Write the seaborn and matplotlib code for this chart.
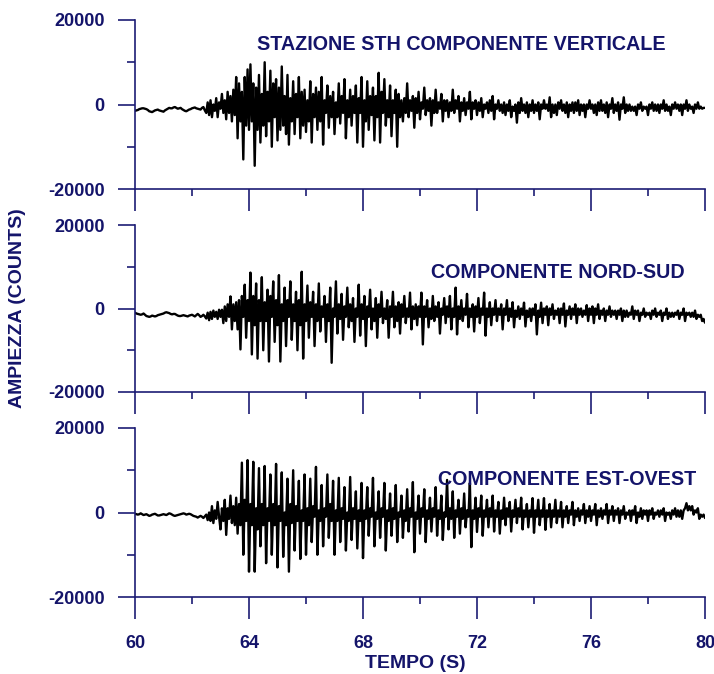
import numpy as np
import pandas as pd
import matplotlib
matplotlib.use("Agg")
import matplotlib.pyplot as plt
import seaborn as sns
from matplotlib.ticker import MultipleLocator, FixedLocator

# ---------------- data (amplitudes in thousands of counts, one sample every 0.05 s) -------------
time_start = 60.0
time_end = 80.0

vertical_k = [
    -1.5, -1.4, -1.3, -1.1, -1.0, -0.9, -0.9, -1.0, -1.1, -1.3,
    -1.6, -1.7, -1.8, -1.6, -1.4, -1.3, -1.2, -1.4, -1.5, -1.6,
    -1.7, -1.4, -1.2, -1.0, -0.8, -0.9, -0.9, -0.7, -0.6, -0.8,
    -1.0, -0.9, -0.8, -1.1, -1.3, -1.5, -1.6, -1.4, -1.2, -1.1,
    -0.9, -0.8, -0.7, -0.9, -1.0, -1.1, -1.2, -0.8, -0.6, -1.4,
    -2.0, 0.5, -2.5, 1.0, -3.0, 0.0, -1.5, 1.5, -3.0, 0.5,
    -1.0, 2.5, -2.0, 1.0, -3.5, 3.0, -2.0, 2.0, -4.0, 3.5,
    -2.5, 6.5, -8.0, 5.0, -4.0, 3.0, -13.0, 6.5, -5.0, 8.3,
    -6.0, 9.5, -4.0, 5.0, -14.5, 4.0, -6.0, 7.0, -9.0, 2.5,
    -5.0, 10.0, -7.5, 3.0, -4.0, 8.0, -10.0, 5.0, -3.0, 6.0,
    -8.5, 4.0, -6.0, 9.0, -5.0, 2.0, -7.0, 7.0, -9.5, 1.5,
    -4.0, 5.5, -7.0, 2.5, -3.0, 6.5, -8.0, 3.0, -5.0, 3.5,
    -6.5, 1.0, -4.0, 5.5, -9.0, 2.5, -3.0, 4.0, -6.0, 3.0,
    -4.0, 6.5, -9.5, 1.0, -2.0, 4.5, -5.5, 2.0, -3.0, 3.0,
    -7.0, 0.5, -3.0, 5.0, -4.5, 2.0, -2.0, 6.0, -8.0, 1.0,
    -3.0, 3.5, -5.0, 2.0, -2.0, 4.5, -9.0, 1.5, -2.0, 6.5,
    -10.0, 1.0, -4.0, 5.5, -6.0, 2.0, -2.5, 4.0, -8.5, 2.0,
    -3.0, 7.5, -9.0, 3.0, -2.0, 6.0, -5.0, 1.0, -3.0, 4.5,
    -7.5, 1.0, -2.0, 3.5, -10.0, 2.5, -3.0, 1.0, -4.0, 1.5,
    -2.0, 5.0, -3.0, 1.0, -1.5, 2.0, -5.5, 1.5, -2.0, 3.0,
    -3.5, 0.5, -1.0, 4.0, -2.5, 1.0, -1.5, 1.5, -5.0, 1.0,
    -2.0, 3.5, -2.0, 0.5, -1.0, 2.5, -4.0, 1.0, -1.5, 1.0,
    -3.0, 0.5, -1.5, 3.5, -2.0, 1.0, -1.0, 2.0, -4.0, 0.5,
    -1.5, 1.5, -2.5, 0.5, -1.0, 3.0, -3.5, 0.5, -1.0, 1.0,
    -2.5, 0.5, -1.5, 1.5, -3.0, 0.0, -1.0, 0.5, -2.0, 1.0,
    -1.5, 2.0, -3.5, 0.0, -1.0, 1.0, -1.5, 0.0, -2.0, 0.5,
    -2.5, 0.0, -1.5, 1.0, -3.0, -0.5, -1.5, 0.0, -4.3, 0.5,
    -2.0, 1.5, -1.5, 0.0, -2.0, 0.5, -3.0, 0.0, -1.5, 1.0,
    -2.0, 0.0, -1.5, 0.5, -3.5, 0.0, -1.0, 1.0, -1.0, 0.0,
    -1.5, 1.7, -3.0, 0.0, -2.0, 0.0, -2.5, 0.5, -1.0, 1.0,
    -1.5, 0.0, -2.0, 0.5, -3.0, 0.0, -1.5, 0.5, -2.0, 0.5,
    -1.5, 1.0, -2.5, 0.0, -1.5, 0.0, -3.0, 0.0, -1.0, 1.0,
    -1.0, 0.0, -2.0, 0.0, -2.5, 0.5, -1.5, 1.0, -1.5, 0.0,
    -2.0, 0.5, -3.0, 0.0, -1.0, 1.5, -2.0, 0.0, -1.5, 0.5,
    -3.6, 0.0, -1.0, 1.7, -2.0, 0.0, -1.5, 0.0, -1.5, -0.5,
    -1.5, -0.5, -2.5, 0.0, -1.0, 0.5, -1.5, -0.5, -1.0, -0.5,
    -2.5, 0.0, -1.0, 0.5, -1.5, 0.0, -1.5, 0.0, -2.0, 0.0,
    -1.0, 1.0, -1.5, 0.0, -1.5, -0.5, -2.5, 0.0, -1.0, 0.5,
    -1.0, 0.0, -1.5, 0.0, -2.5, 0.0, -1.0, 1.0, -1.5, 0.0,
    -1.0, -0.5, -2.0, 0.0, -1.0, 0.5, -1.0, -0.5, -1.0, -0.8,
    -0.8,
]

nord_sud_k = [
    -1.0, -1.2, -1.3, -1.4, -1.5, -1.4, -1.2, -1.5, -1.8, -1.9,
    -2.0, -1.9, -1.7, -1.8, -1.9, -1.8, -1.6, -1.5, -1.4, -1.3,
    -1.2, -1.0, -0.9, -1.0, -1.1, -1.3, -1.4, -1.3, -1.3, -1.5,
    -1.7, -1.8, -1.8, -1.7, -1.6, -1.7, -1.8, -1.9, -1.7, -1.6,
    -1.5, -1.7, -1.9, -1.6, -1.3, -1.6, -2.0, -1.8, -1.5, -1.9,
    -2.4, -1.0, -2.8, -0.8, -2.5, -0.5, -2.0, -0.8, -2.5, -0.3,
    -2.0, -0.3, -3.5, 0.5, -3.0, 1.0, -2.0, 2.9, -5.0, 1.0,
    -3.0, 1.5, -5.0, 2.0, -9.8, 3.0, -2.0, 5.7, -7.0, 2.0,
    -3.0, 8.6, -11.0, 3.0, -4.0, 6.0, -12.0, 2.0, -3.0, 7.5,
    -10.0, 1.5, -3.0, 4.5, -12.7, 3.0, -2.0, 6.5, -8.0, 2.0,
    -4.0, 8.0, -12.7, 1.0, -3.0, 5.0, -9.0, 2.0, -2.0, 6.5,
    -7.5, 1.0, -3.0, 4.0, -10.0, 2.0, -4.0, 8.8, -12.0, 1.0,
    -3.0, 5.5, -7.0, 1.5, -2.0, 4.0, -9.0, 1.0, -3.0, 6.0,
    -5.5, 0.5, -2.0, 3.0, -8.0, 1.0, -3.0, 5.0, -13.0, 0.0,
    -2.0, 6.5, -6.0, 1.0, -2.5, 3.5, -7.5, 0.5, -2.0, 5.0,
    -4.5, 1.0, -3.0, 2.5, -8.0, 0.0, -2.0, 5.7, -6.5, 1.0,
    -2.5, 3.0, -9.0, 0.5, -2.0, 4.5, -5.0, 0.0, -3.0, 2.5,
    -7.0, 1.0, -2.0, 4.0, -3.5, 0.0, -2.5, 2.0, -7.0, 0.5,
    -2.0, 4.0, -4.5, 0.5, -3.0, 1.5, -6.0, 1.0, -2.0, 3.0,
    -3.5, 0.0, -2.0, 3.8, -5.0, 0.5, -2.5, 1.0, -4.0, 0.5,
    -2.0, 3.8, -8.6, 0.5, -2.0, 2.0, -4.5, 0.0, -2.5, 3.0,
    -3.0, 0.5, -2.0, 1.5, -6.0, 0.0, -1.5, 2.5, -3.5, 0.5,
    -2.0, 3.0, -5.0, 0.0, -2.0, 5.0, -6.2, 0.5, -2.5, 2.0,
    -3.0, 0.0, -1.5, 3.5, -4.5, 0.0, -2.0, 1.0, -5.5, 0.5,
    -2.0, 2.5, -3.5, 0.0, -1.5, 3.8, -6.5, 0.0, -2.0, 1.5,
    -4.0, 0.0, -1.5, 2.0, -3.0, 0.0, -1.5, 1.0, -5.0, 0.0,
    -1.5, 2.0, -3.0, 0.0, -2.0, 1.5, -4.5, -0.5, -2.0, 0.5,
    -2.5, 0.0, -1.5, 1.4, -4.3, -0.5, -2.0, 0.0, -3.0, 0.0,
    -1.5, 1.0, -6.2, -0.5, -2.0, 1.4, -3.5, 0.0, -1.5, 0.5,
    -4.0, 0.0, -1.5, 1.0, -2.5, -0.5, -1.5, 0.0, -3.5, 0.0,
    -1.5, 1.2, -4.3, -0.5, -1.5, 0.5, -2.5, 0.0, -1.5, 1.0,
    -3.5, 0.0, -1.5, 0.0, -2.0, -0.5, -1.5, 0.8, -3.0, 0.0,
    -1.5, 0.5, -3.5, 0.0, -1.5, 1.0, -2.5, -0.5, -1.5, 0.0,
    -3.0, -0.5, -1.5, 0.5, -2.0, -0.5, -1.5, -0.5, -2.5, -0.5,
    -1.5, 0.0, -3.0, -0.5, -2.0, -0.5, -2.0, -1.0, -1.5, 0.5,
    -2.5, -0.5, -1.5, -0.5, -3.0, -1.0, -1.5, 0.0, -2.0, -1.0,
    -1.5, -1.0, -2.5, -0.5, -1.5, 0.0, -2.0, -1.0, -1.5, -0.5,
    -3.0, -1.0, -1.5, 0.0, -2.5, -1.0, -2.0, -1.0, -2.0, -1.0,
    -1.5, -0.5, -2.5, -1.0, -1.5, 0.0, -3.0, -1.0, -1.5, -1.0,
    -2.0, -1.0, -2.0, -0.5, -2.5, -1.5, -2.0, -1.5, -3.0, -2.5,
    -3.4,
]

est_ovest_k = [
    -0.3, -0.4, -0.5, -0.4, -0.2, -0.4, -0.6, -0.5, -0.4, -0.6,
    -0.8, -0.7, -0.5, -0.4, -0.3, -0.5, -0.7, -0.7, -0.6, -0.5,
    -0.4, -0.5, -0.6, -0.4, -0.2, -0.3, -0.5, -0.7, -0.8, -0.7,
    -0.6, -0.5, -0.4, -0.3, -0.2, -0.3, -0.5, -0.4, -0.3, -0.4,
    -0.6, -0.8, -0.9, -1.0, -1.2, -1.0, -0.8, -1.0, -1.3, -0.9,
    -0.5, -1.8, 0.0, -2.0, 1.5, -2.5, 0.5, -1.5, 2.5, -1.0,
    -4.0, 1.0, -2.0, 3.0, -5.3, 1.0, -1.5, 4.0, -2.5, 1.5,
    -3.0, 3.5, -5.0, 2.0, -3.0, 11.8, -10.0, 3.0, -2.0, 12.4,
    -14.0, 2.0, -3.0, 12.0, -14.0, 1.0, -4.0, 10.5, -8.0, 2.0,
    -3.0, 11.0, -12.0, 1.0, -2.0, 9.0, -10.0, 2.0, -3.0, 11.5,
    -13.0, 1.5, -2.0, 9.5, -10.5, 0.0, -3.0, 8.0, -14.0, 2.0,
    -2.5, 10.0, -9.0, 1.5, -2.0, 7.5, -11.0, 0.5, -2.0, 9.0,
    -10.0, 1.0, -3.0, 8.0, -7.0, 1.5, -1.0, 10.8, -10.0, 0.5,
    -2.0, 6.5, -8.0, 1.0, -1.0, 9.0, -6.0, 2.0, -2.0, 7.5,
    -10.0, 0.5, -2.0, 8.2, -7.0, 1.0, -1.5, 6.0, -9.0, 0.0,
    -2.0, 8.4, -6.5, 1.0, -1.5, 5.0, -8.5, 0.5, -2.0, 7.0,
    -10.8, 0.5, -1.5, 6.0, -5.5, 1.0, -1.0, 8.2, -8.0, 0.0,
    -1.5, 5.0, -6.0, 1.0, -1.0, 7.0, -9.0, 0.5, -2.0, 4.5,
    -5.5, 1.0, -1.5, 6.5, -7.0, 0.0, -1.0, 4.0, -6.0, 0.5,
    -2.0, 5.5, -4.5, 1.0, -1.0, 7.2, -9.4, 0.0, -1.5, 4.0,
    -5.0, 1.0, -1.0, 5.5, -7.0, 0.5, -1.5, 3.5, -4.5, 1.0,
    -1.0, 6.0, -5.5, 0.5, -1.5, 4.0, -6.5, 0.0, -1.0, 7.7,
    -4.0, 1.0, -1.5, 5.0, -6.0, 0.5, -1.0, 3.0, -5.0, 1.0,
    -1.5, 4.5, -3.5, 0.5, -1.0, 7.0, -8.2, 0.5, -1.5, 3.5,
    -4.6, 1.0, -1.0, 4.0, -5.5, 0.5, -1.0, 3.0, -3.5, 1.0,
    -1.0, 4.0, -4.5, 0.5, -1.0, 2.5, -5.0, 0.5, -1.5, 3.5,
    -3.0, 1.0, -1.0, 2.5, -4.5, 0.5, -1.0, 3.0, -2.5, 1.0,
    -1.0, 3.5, -4.0, 0.5, -1.0, 2.0, -3.5, 0.5, -1.0, 3.4,
    -4.8, 0.5, -1.0, 3.0, -3.0, 0.5, -1.0, 3.4, -4.1, 0.5,
    -1.0, 2.0, -3.5, 0.5, -1.0, 3.0, -2.5, 0.5, -1.0, 2.5,
    -3.5, 0.5, -1.0, 1.5, -2.5, 0.5, -0.5, 2.5, -3.0, 0.5,
    -1.0, 1.0, -2.0, 0.5, -0.5, 2.0, -2.5, 0.5, -1.0, 1.5,
    -2.0, 0.5, -0.5, 2.0, -3.0, 0.5, -1.0, 1.0, -1.5, 0.5,
    -0.5, 2.0, -2.5, 0.5, -0.5, 1.5, -2.0, 0.5, -0.5, 1.0,
    -2.5, 0.5, -0.5, 1.5, -1.5, 0.0, -0.5, 0.5, -2.0, 0.5,
    -0.5, 1.5, -2.5, 0.0, -1.0, 1.0, -1.5, 0.5, -0.5, 0.5,
    -2.0, 0.5, -0.5, 1.0, -1.5, 0.0, -0.5, 0.5, -1.0, 0.5,
    -0.5, 1.0, -2.0, 0.0, -0.5, 0.0, -1.5, 0.5, -0.5, 1.0,
    -1.0, 0.5, -1.0, 0.5, -1.5, 0.5, 1.0, 2.2, 0.5, 1.5,
    0.5, 1.5, -0.5, 0.5, 0.0, 1.0, -1.5, -0.5, -1.0, -0.5,
    -1.3,
]

panel_titles = ["STAZIONE STH COMPONENTE VERTICALE", "COMPONENTE NORD-SUD", "COMPONENTE EST-OVEST"]
y_tick_values = [-20000, 0, 20000]
y_tick_labels = ["-20000", "0", "20000"]
x_tick_values = [60, 64, 68, 72, 76, 80]
x_tick_labels = ["60", "64", "68", "72", "76", "80"]
x_label = "TEMPO (S)"
y_label = "AMPIEZZA (COUNTS)"

# ---------------- style -------------
sns.set_style("white")
plt.rcParams["font.family"] = ["Liberation Sans", "DejaVu Sans"]
plt.rcParams["font.weight"] = "bold"
plt.rcParams["axes.unicode_minus"] = False

NAVY = "#1c1c74"
TEXT = "#14146a"

fig = plt.figure(figsize=(7.14, 6.74), dpi=100)
left, width = 135 / 714, 570 / 714
panel_px = [(20, 189), (225, 392), (428, 597)]
label_pos = [(71.45, 14200), (74.85, 8700), (75.15, 7800)]

traces = [vertical_k, nord_sud_k, est_ovest_k]

for i, (trace, (top, bot)) in enumerate(zip(traces, panel_px)):
    ax = fig.add_axes([left, 1 - bot / 674, width, (bot - top) / 674])
    time = np.linspace(time_start, time_end, len(trace))
    df = pd.DataFrame({"t": time, "amp": np.array(trace) * 1000.0})
    sns.lineplot(data=df, x="t", y="amp", ax=ax, color="black", linewidth=1.7,
                 sort=False, errorbar=None, estimator=None)
    ax.set_xlim(time_start, time_end)
    ax.set_ylim(-20000, 20000)
    for s in ["top", "right"]:
        ax.spines[s].set_visible(False)
    for s in ["left", "bottom"]:
        ax.spines[s].set_color(NAVY)
        ax.spines[s].set_linewidth(1.2)
    ax.yaxis.set_major_locator(FixedLocator(y_tick_values))
    ax.set_yticklabels(y_tick_labels)
    ax.yaxis.set_minor_locator(FixedLocator([-10000, 10000]))
    ax.xaxis.set_major_locator(FixedLocator(x_tick_values))
    ax.xaxis.set_minor_locator(MultipleLocator(2))
    ax.tick_params(which="both", left=True, bottom=True, top=False, right=False)
    ax.tick_params(axis="y", which="major", direction="out", length=12, width=1.2,
                   color=NAVY, labelcolor=TEXT, labelsize=13, pad=10)
    ax.tick_params(axis="y", which="minor", direction="out", length=6, width=1.2, color=NAVY)
    ax.tick_params(axis="x", which="major", direction="out", length=15.5, width=1.2,
                   color=NAVY, labelcolor=TEXT, labelsize=13, pad=12)
    ax.tick_params(axis="x", which="minor", direction="out", length=5, width=1.2, color=NAVY)
    for lab in ax.get_yticklabels():
        lab.set_fontweight("bold")
    if i < 2:
        ax.set_xticklabels([])
    else:
        ax.set_xticklabels(x_tick_labels)
        for lab in ax.get_xticklabels():
            lab.set_fontweight("bold")
    ax.set_xlabel("")
    ax.set_ylabel("")
    tx, ty = label_pos[i]
    ax.text(tx, ty, panel_titles[i], ha="center", va="center", color=TEXT,
            fontsize=14.2, fontweight="bold")

fig.text(415 / 714, 1 - 663 / 674, x_label, ha="center", va="center", color=TEXT,
         fontsize=14, fontweight="bold")
fig.text(18 / 714, 1 - 308 / 674, y_label, ha="center", va="center", rotation=90,
         color=TEXT, fontsize=14, fontweight="bold")

fig.savefig("out.png", dpi=100)
